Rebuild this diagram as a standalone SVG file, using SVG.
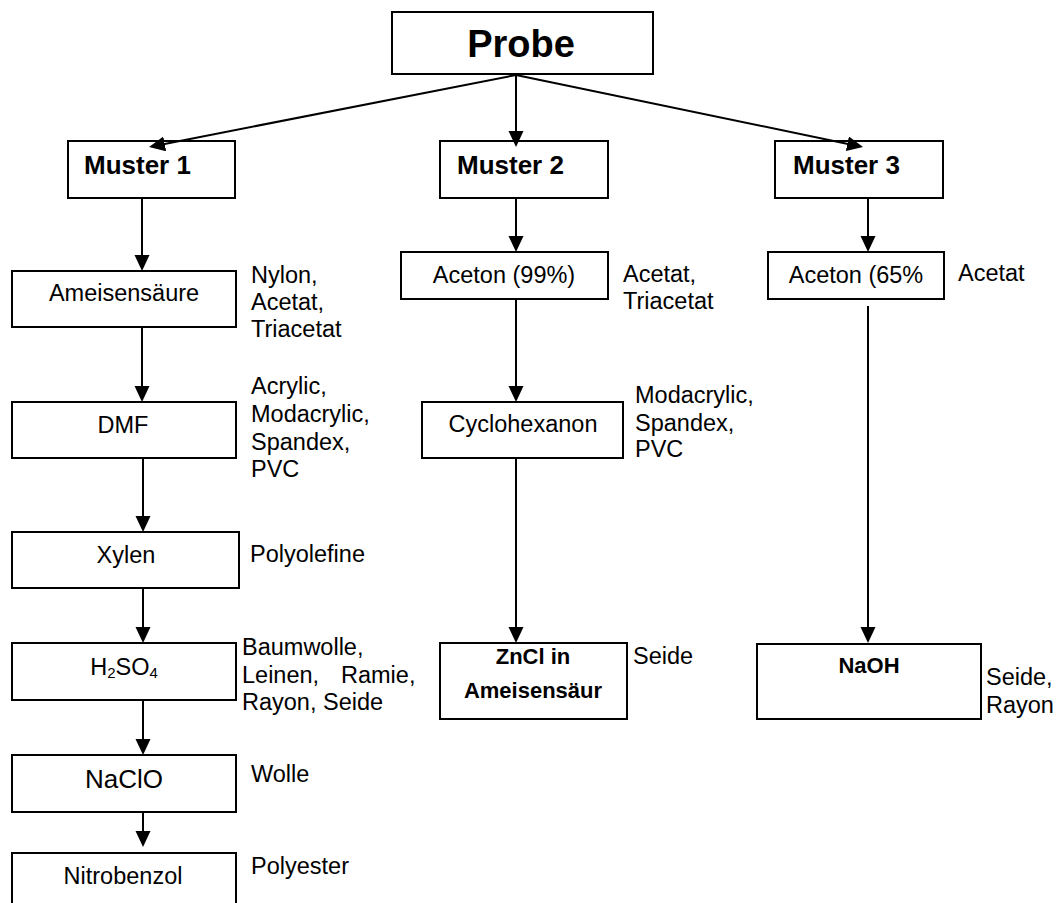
<svg xmlns="http://www.w3.org/2000/svg" width="1058" height="903" viewBox="0 0 1058 903">
<style>
.box{fill:#fff;stroke:#000;stroke-width:2}
.t{font-family:"Liberation Sans",Arial,sans-serif;font-size:23.5px;fill:#000}
.c{text-anchor:middle}
.b{font-weight:bold}
.con line{stroke:#000;stroke-width:2;marker-end:url(#ah)}
</style>
<defs>
<marker id="ah" markerUnits="userSpaceOnUse" markerWidth="16" markerHeight="16" refX="8" refY="7.5" orient="auto">
<path d="M0,0 L16,7.5 L0,15 z" fill="#000"/>
</marker>
</defs>
<rect width="1058" height="903" fill="#fff"/>
<g id="probe"><rect class="box" x="392" y="12" width="261" height="62"/><text class="t b c" x="521" y="57" style="font-size:38px">Probe</text></g>
<g id="muster1"><rect class="box" x="68" y="141" width="167" height="57"/><text class="t b" x="84" y="174" style="font-size:26px">Muster 1</text></g>
<g id="muster2"><rect class="box" x="440" y="141" width="168" height="57"/><text class="t b" x="457" y="174" style="font-size:26px">Muster 2</text></g>
<g id="muster3"><rect class="box" x="775" y="141" width="168" height="57"/><text class="t b" x="793" y="174" style="font-size:26px">Muster 3</text></g>
<g id="ameisensaeure"><rect class="box" x="12" y="271" width="224" height="56"/><text class="t c" x="124" y="301">Ameisensäure</text>
<text class="t" x="251" y="283">Nylon,</text><text class="t" x="251" y="310">Acetat,</text><text class="t" x="251" y="337">Triacetat</text></g>
<g id="dmf"><rect class="box" x="12" y="402" width="224" height="56"/><text class="t c" x="123" y="433">DMF</text>
<text class="t" x="251" y="394">Acrylic,</text><text class="t" x="251" y="422">Modacrylic,</text><text class="t" x="251" y="450">Spandex,</text><text class="t" x="251" y="477">PVC</text></g>
<g id="xylen"><rect class="box" x="12" y="532" width="227" height="56"/><text class="t c" x="126" y="563">Xylen</text>
<text class="t" x="250" y="562">Polyolefine</text></g>
<g id="h2so4"><rect class="box" x="12" y="643" width="224" height="57"/><text class="t c" x="124" y="675">H<tspan style="font-size:15px" dy="3">2</tspan><tspan dy="-3">SO</tspan><tspan style="font-size:15px" dy="3">4</tspan></text>
<text class="t" x="242" y="655">Baumwolle,</text><text class="t" x="242" y="683">Leinen,<tspan x="341">Ramie,</tspan></text><text class="t" x="242" y="710">Rayon, Seide</text></g>
<g id="naclo"><rect class="box" x="12" y="755" width="224" height="57"/><text class="t c" x="124" y="788" style="font-size:26px">NaClO</text>
<text class="t" x="251" y="782">Wolle</text></g>
<g id="nitrobenzol"><rect class="box" x="12" y="853" width="224" height="62"/><text class="t c" x="123" y="884">Nitrobenzol</text>
<text class="t" x="251" y="874">Polyester</text></g>
<g id="aceton99"><rect class="box" x="401" y="252" width="207" height="47"/><text class="t c" x="504" y="283">Aceton (99%)</text>
<text class="t" x="623" y="282">Acetat,</text><text class="t" x="623" y="309">Triacetat</text></g>
<g id="cyclohexanon"><rect class="box" x="422" y="402" width="201" height="56"/><text class="t c" x="523" y="432">Cyclohexanon</text>
<text class="t" x="635" y="403">Modacrylic,</text><text class="t" x="635" y="431">Spandex,</text><text class="t" x="635" y="457">PVC</text></g>
<g id="zncl"><rect class="box" x="440" y="643" width="187" height="76"/><text class="t b c" x="533" y="664" style="font-size:22px">ZnCl in</text><text class="t b c" x="533" y="698" style="font-size:22px">Ameisensäur</text>
<text class="t" x="633" y="664">Seide</text></g>
<g id="aceton65"><rect class="box" x="768" y="252" width="176" height="47"/><text class="t c" x="856" y="283">Aceton (65%</text>
<text class="t" x="958" y="281">Acetat</text></g>
<g id="naoh"><rect class="box" x="757" y="644" width="224" height="75"/><text class="t b c" x="869" y="673" style="font-size:22px">NaOH</text>
<text class="t" x="986" y="685">Seide,</text><text class="t" x="986" y="713">Rayon</text></g>
<g id="connectors" class="con">
<line x1="516" y1="75" x2="156.9" y2="145.4"/>
<line x1="516" y1="75" x2="516" y2="139"/>
<line x1="516" y1="75" x2="855.2" y2="145.4"/>
<line x1="142" y1="199" x2="142" y2="263"/>
<line x1="142" y1="328" x2="142" y2="394"/>
<line x1="143" y1="459" x2="143" y2="524"/>
<line x1="143" y1="589" x2="143" y2="635"/>
<line x1="143" y1="701" x2="143" y2="747"/>
<line x1="143" y1="813" x2="143" y2="839"/>
<line x1="516" y1="199" x2="516" y2="244"/>
<line x1="516" y1="300" x2="516" y2="394"/>
<line x1="516" y1="459" x2="516" y2="635"/>
<line x1="868" y1="199" x2="868" y2="244"/>
<line x1="868" y1="306" x2="868" y2="635"/>
</g>
</svg>
